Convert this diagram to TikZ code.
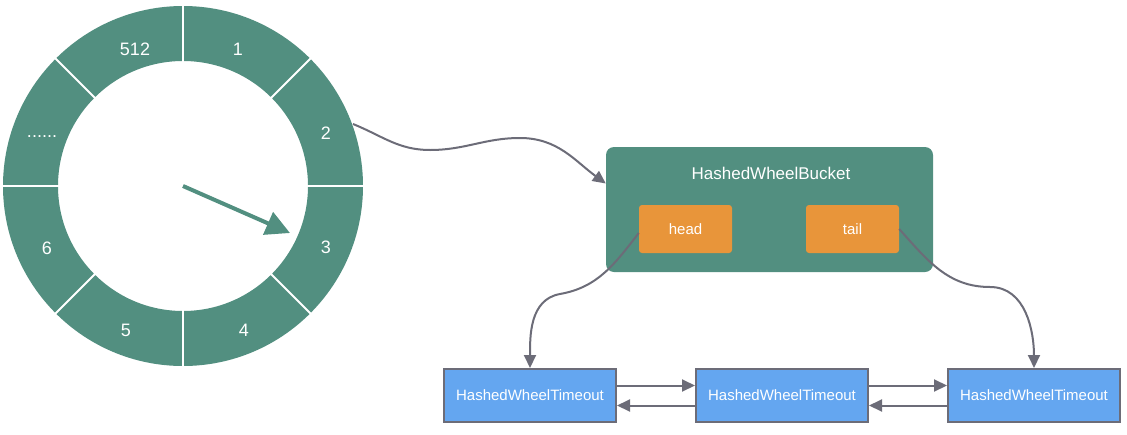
\documentclass[tikz,border=0pt]{standalone}
\usepackage{fontspec}
\setmainfont{Liberation Sans}
\usetikzlibrary{arrows.meta}
\definecolor{wheelgreen}{RGB}{82,143,128}
\definecolor{boxorange}{RGB}{232,149,58}
\definecolor{boxblue}{RGB}{100,166,240}
\definecolor{linegray}{RGB}{108,108,120}
\begin{document}
\begin{tikzpicture}[x=1pt,y=-1pt,
  lbl/.style={text=white, font=\fontsize{18}{21}\selectfont},
  conn/.style={draw=linegray, line width=2pt, -{Triangle[length=13pt,width=12pt]}},
  bucketbox/.style={fill=wheelgreen, rounded corners=8pt, minimum width=327pt, minimum height=125pt, inner sep=0pt},
  ptrbox/.style={fill=boxorange, rounded corners=3pt, minimum width=93pt, minimum height=48pt, text=white, font=\fontsize{15}{18}\selectfont},
  timeoutbox/.style={fill=boxblue, draw=linegray, line width=2pt, minimum width=172pt, minimum height=53pt, text=white, font=\fontsize{15}{18}\selectfont},
]
\useasboundingbox (0,0) rectangle (1127,434);
% wheel
\coordinate (c) at (183,186);
\fill[wheelgreen, even odd rule] (c) circle[radius=180pt] (c) circle[radius=125pt];
\foreach \a in {0,45,...,315} \draw[white, line width=2pt, shift={(c)}] (\a:124pt) -- (\a:181pt);
\node[lbl] (s512) at (135,49) {512};
\node[lbl] (s1) at (238,49) {1};
\node[lbl] (s2) at (326,133) {2};
\node[lbl] (s3) at (326,247) {3};
\node[lbl] (s4) at (244,330) {4};
\node[lbl] (s5) at (126,330) {5};
\node[lbl] (s6) at (47,248) {6};
\node[lbl] (sdots) at (42,137) {......};
\coordinate (hand) at (290,233);
\draw[wheelgreen, line width=4pt, -{Triangle[length=24pt,width=24pt]}] (c) -- (hand);
% bucket
\node[bucketbox] (bucket) at (769.5,209.5) {};
\node[text=white, font=\fontsize{17}{20}\selectfont] (btitle) at (771,173) {HashedWheelBucket};
\node[ptrbox] (head) at (685.5,229) {head};
\node[ptrbox] (tail) at (852.5,229) {tail};
% timeouts
\node[timeoutbox] (t1) at (530,395.5) {HashedWheelTimeout};
\node[timeoutbox] (t2) at (782,395.5) {HashedWheelTimeout};
\node[timeoutbox] (t3) at (1034,395.5) {HashedWheelTimeout};
% connectors
\coordinate (ws) at (353,124);
\coordinate (wa) at (430,150);
\coordinate (wb) at (520,138);
\coordinate (ha) at (560,294);
\coordinate (ta) at (990,287);
\draw[conn] (ws) to[out=-22,in=180] (wa) to[out=0,in=180] (wb) to[out=0,in=144] ([yshift=26pt]bucket.west);
\draw[conn] ([yshift=-4pt]head.west) to[out=232,in=10] (ha) to[out=190,in=90] (t1.north);
\draw[conn] (tail.east) to[out=-48,in=180] (ta) to[out=0,in=90] (t3.north);
\draw[conn] ([yshift=10pt]t1.east) -- ([yshift=10pt]t2.west);
\draw[conn] ([yshift=-10pt]t2.west) -- ([yshift=-10pt]t1.east);
\draw[conn] ([yshift=10pt]t2.east) -- ([yshift=10pt]t3.west);
\draw[conn] ([yshift=-10pt]t3.west) -- ([yshift=-10pt]t2.east);
\end{tikzpicture}
\end{document}
